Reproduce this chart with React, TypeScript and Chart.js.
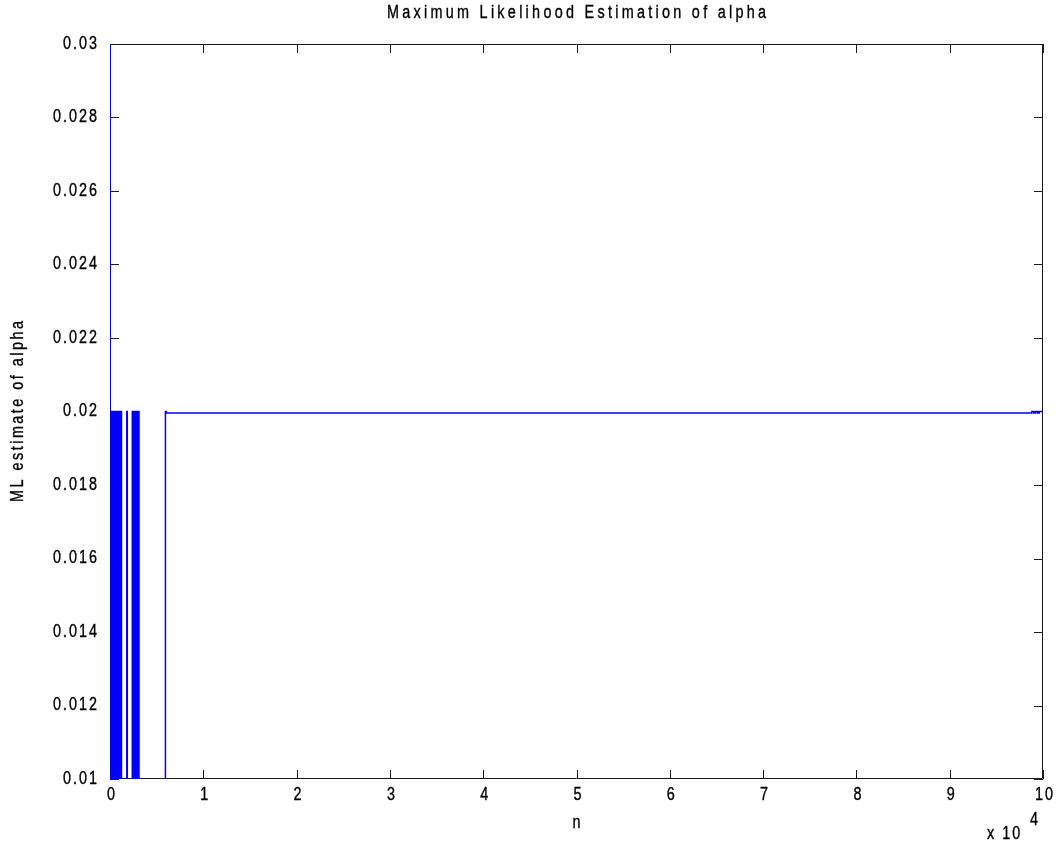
import React, { useEffect, useRef } from "react";
import { Chart, registerables } from "chart.js";

Chart.register(...registerables);

const TITLE = "Maximum Likelihood Estimation of alpha";
const X_LABEL = "n";
const Y_LABEL = "ML estimate of alpha";
const X_EXPONENT_BASE = "x 10";
const X_EXPONENT = "4";

const X_TICKS = [0, 1, 2, 3, 4, 5, 6, 7, 8, 9, 10]; // units of 10^4
const X_TICK_LABELS = ["0", "1", "2", "3", "4", "5", "6", "7", "8", "9", "10"];
const Y_TICKS = [0.01, 0.012, 0.014, 0.016, 0.018, 0.02, 0.022, 0.024, 0.026, 0.028, 0.03];
const Y_TICK_LABELS = ["0.01", "0.012", "0.014", "0.016", "0.018", "0.02", "0.022", "0.024", "0.026", "0.028", "0.03"];

const X_MIN = 0;
const X_MAX = 100000;
const Y_MIN = 0.01;
const Y_MAX = 0.03;

// ML estimate (held constant until the next sample, drawn as stairs)
const N_VALUES = [
  1, 2, 30, 60, 110, 150, 200, 240, 290, 330, 380, 420, 470, 510, 560, 600,
  650, 690, 740, 780, 830, 870, 920, 960, 1010, 1050, 1100, 1140, 1190, 1230,
  1800, 1850,
  2390, 2430, 2470, 2510, 2550, 2590, 2630, 2670, 2710, 2750, 2790, 2830,
  2870, 2910, 2950, 2990, 3030, 3070, 3090, 3110,
  5940, 6040,
  98800, 99000, 99200, 99400, 99600, 99800, 100000,
];
const ALPHA_VALUES = [
  0.03, 0, 0.02, 0, 0.02, 0, 0.02, 0, 0.02, 0, 0.02, 0, 0.02, 0, 0.02, 0,
  0.02, 0, 0.02, 0, 0.02, 0, 0.02, 0, 0.02, 0, 0.02, 0, 0.02, 0.02,
  0, 0.02,
  0, 0.02, 0, 0.02, 0, 0.02, 0, 0.02, 0, 0.02, 0, 0.02,
  0, 0.02, 0, 0.02, 0, 0.02, 0, 0.02,
  0, 0.02,
  0.01996, 0.02, 0.01996, 0.02, 0.01996, 0.02, 0.02,
];

const FONT = '"Liberation Sans", Arial, sans-serif';
const FONT_SIZE = 18;
const SCALE_X = 0.8;

function drawText(
  ctx: CanvasRenderingContext2D,
  text: string,
  x: number,
  y: number,
  align: CanvasTextAlign,
  spacing: number,
  rotate = 0
) {
  ctx.save();
  ctx.translate(x, y);
  if (rotate) ctx.rotate(rotate);
  ctx.scale(SCALE_X, 1);
  ctx.font = `${FONT_SIZE}px ${FONT}`;
  (ctx as any).letterSpacing = `${spacing}px`;
  ctx.textBaseline = "middle";
  ctx.textAlign = "left";
  const w = ctx.measureText(text).width - spacing;
  let startX = 0;
  if (align === "center") startX = -w / 2;
  else if (align === "right") startX = -w;
  ctx.fillText(text, startX, 0);
  ctx.lineWidth = 0.35;
  ctx.strokeStyle = ctx.fillStyle as string;
  ctx.strokeText(text, startX, 0);
  ctx.restore();
}

export default function App() {
  const canvasRef = useRef<HTMLCanvasElement | null>(null);

  useEffect(() => {
    const canvas = canvasRef.current;
    if (!canvas) return;

    const points = N_VALUES.map((n, i) => ({ x: n, y: ALPHA_VALUES[i] }));

    const matlabAxes = {
      id: "matlabAxes",
      beforeDraw(chart: any) {
        const ctx = chart.ctx;
        ctx.save();
        ctx.fillStyle = "#ffffff";
        ctx.fillRect(0, 0, chart.width, chart.height);
        ctx.restore();
      },
      beforeDatasetsDraw(chart: any) {
        const ctx = chart.ctx;
        const { left, right, top, bottom } = chart.chartArea;
        const xs = chart.scales.x;
        const ys = chart.scales.y;
        const tick = 9;
        ctx.save();
        ctx.strokeStyle = "#1a1a1a";
        ctx.lineWidth = 1;
        ctx.beginPath();
        ctx.rect(left + 0.5, top + 0.5, right - left - 1, bottom - top - 1);
        X_TICKS.forEach((v) => {
          const px = Math.round(xs.getPixelForValue(v * 10000)) + 0.5;
          ctx.moveTo(px, bottom);
          ctx.lineTo(px, bottom - tick);
          ctx.moveTo(px, top);
          ctx.lineTo(px, top + tick);
        });
        Y_TICKS.forEach((v) => {
          const py = Math.round(ys.getPixelForValue(v)) + 0.5;
          ctx.moveTo(left, py);
          ctx.lineTo(left + tick, py);
          ctx.moveTo(right, py);
          ctx.lineTo(right - tick, py);
        });
        ctx.stroke();
        ctx.restore();
      },
      afterDraw(chart: any) {
        const ctx = chart.ctx as CanvasRenderingContext2D;
        const { left, right, top, bottom } = chart.chartArea;
        const xs = chart.scales.x;
        const ys = chart.scales.y;
        ctx.save();
        ctx.fillStyle = "#000000";
        Y_TICKS.forEach((v, i) => {
          drawText(ctx, Y_TICK_LABELS[i], left - 13, ys.getPixelForValue(v), "right", 2.5);
        });
        X_TICKS.forEach((v, i) => {
          drawText(ctx, X_TICK_LABELS[i], xs.getPixelForValue(v * 10000) + 1, bottom + 16, "center", 2.5);
        });
        drawText(ctx, TITLE, (left + right) / 2, 13, "center", 4.1);
        drawText(ctx, X_LABEL, (left + right) / 2, bottom + 44, "center", 2.5);
        drawText(ctx, X_EXPONENT_BASE, 987, 834, "left", 2.5);
        drawText(ctx, X_EXPONENT, 1030, 820, "left", 2.5);
        drawText(ctx, Y_LABEL, 18, (top + bottom) / 2, "center", 3.1, -Math.PI / 2);
        ctx.restore();
      },
    };

    const chart = new Chart(canvas, {
      type: "line",
      data: {
        datasets: [
          {
            data: points,
            borderColor: "#0000ff",
            borderWidth: 1.5,
            pointRadius: 0,
            stepped: "after",
            fill: false,
            clip: 0,
          } as any,
        ],
      },
      options: {
        responsive: false,
        animation: false,
        devicePixelRatio: 1,
        layout: { padding: { left: 110, right: 13, top: 44, bottom: 64 } },
        plugins: {
          legend: { display: false },
          title: { display: false },
          tooltip: { enabled: false },
        },
        scales: {
          x: { type: "linear", min: X_MIN, max: X_MAX, display: false },
          y: { type: "linear", min: Y_MIN, max: Y_MAX, display: false },
        },
      },
      plugins: [matlabAxes],
    });

    return () => chart.destroy();
  }, []);

  return (
    <div style={{ position: "absolute", left: 0, top: 0, width: 1056, height: 843, background: "#fff" }}>
      <canvas ref={canvasRef} width={1056} height={843} />
    </div>
  );
}
